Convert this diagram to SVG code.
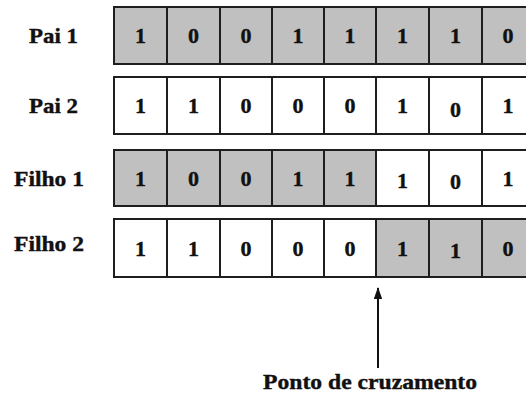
<svg xmlns="http://www.w3.org/2000/svg" width="526" height="394" viewBox="0 0 526 394">
  <style>
    .cell { stroke: #1e1e1e; stroke-width: 2; }
    .on { fill: #c0c0c0; }
    .off { fill: #ffffff; }
    text { font-family: "Liberation Serif", serif; font-weight: 700; font-size: 22px; fill: #111; stroke: #111; stroke-width: 0.4; }
    .bit { text-anchor: middle; }
  </style>
  <defs>
    <marker id="head" viewBox="0 0 12 10" refX="11" refY="5" markerWidth="12" markerHeight="10" markerUnits="userSpaceOnUse" orient="auto">
      <path d="M12,5 L0,0.8 L0,9.2 Z" fill="#111"/>
    </marker>
  </defs>
  <rect width="526" height="394" fill="#ffffff"/>

  <!-- Pai 1 -->
  <g id="pai1">
    <text x="29" y="43" textLength="49" lengthAdjust="spacingAndGlyphs">Pai 1</text>
    <rect class="cell on" x="114" y="7" width="53" height="57"/>
    <rect class="cell on" x="167" y="7" width="53" height="57"/>
    <rect class="cell on" x="220" y="7" width="52" height="57"/>
    <rect class="cell on" x="272" y="7" width="52" height="57"/>
    <rect class="cell on" x="324" y="7" width="52" height="57"/>
    <rect class="cell on" x="376" y="7" width="53" height="57"/>
    <rect class="cell on" x="429" y="7" width="53" height="57"/>
    <rect class="cell on" x="482" y="7" width="53" height="57"/>
    <text class="bit" x="140.5" y="43">1</text>
    <text class="bit" x="193.5" y="43">0</text>
    <text class="bit" x="246" y="43">0</text>
    <text class="bit" x="298" y="43">1</text>
    <text class="bit" x="350" y="43">1</text>
    <text class="bit" x="402.5" y="43">1</text>
    <text class="bit" x="455.5" y="43">1</text>
    <text class="bit" x="508" y="43">0</text>
  </g>

  <!-- Pai 2 -->
  <g id="pai2">
    <text x="29" y="113" textLength="49" lengthAdjust="spacingAndGlyphs">Pai 2</text>
    <rect class="cell off" x="114" y="77" width="53" height="57"/>
    <rect class="cell off" x="167" y="77" width="53" height="57"/>
    <rect class="cell off" x="220" y="77" width="52" height="57"/>
    <rect class="cell off" x="272" y="77" width="52" height="57"/>
    <rect class="cell off" x="324" y="77" width="52" height="57"/>
    <rect class="cell off" x="376" y="77" width="53" height="57"/>
    <rect class="cell off" x="429" y="77" width="53" height="57"/>
    <rect class="cell off" x="482" y="77" width="53" height="57"/>
    <text class="bit" x="140.5" y="113">1</text>
    <text class="bit" x="193.5" y="113">1</text>
    <text class="bit" x="246" y="113">0</text>
    <text class="bit" x="298" y="113">0</text>
    <text class="bit" x="350" y="113">0</text>
    <text class="bit" x="402.5" y="113">1</text>
    <text class="bit" x="455.5" y="117">0</text>
    <text class="bit" x="508" y="113">1</text>
  </g>

  <!-- Filho 1 -->
  <g id="filho1">
    <text x="14" y="186" textLength="70" lengthAdjust="spacingAndGlyphs">Filho 1</text>
    <rect class="cell on" x="114" y="150" width="53" height="56"/>
    <rect class="cell on" x="167" y="150" width="53" height="56"/>
    <rect class="cell on" x="220" y="150" width="52" height="56"/>
    <rect class="cell on" x="272" y="150" width="52" height="56"/>
    <rect class="cell on" x="324" y="150" width="52" height="56"/>
    <rect class="cell off" x="376" y="150" width="53" height="56"/>
    <rect class="cell off" x="429" y="150" width="53" height="56"/>
    <rect class="cell off" x="482" y="150" width="53" height="56"/>
    <text class="bit" x="140.5" y="186">1</text>
    <text class="bit" x="193.5" y="186">0</text>
    <text class="bit" x="246" y="186">0</text>
    <text class="bit" x="298" y="186">1</text>
    <text class="bit" x="350" y="186">1</text>
    <text class="bit" x="402.5" y="188">1</text>
    <text class="bit" x="455.5" y="189">0</text>
    <text class="bit" x="508" y="186">1</text>
  </g>

  <!-- Filho 2 -->
  <g id="filho2">
    <text x="14" y="251" textLength="70" lengthAdjust="spacingAndGlyphs">Filho 2</text>
    <rect class="cell off" x="114" y="219" width="53" height="58"/>
    <rect class="cell off" x="167" y="219" width="53" height="58"/>
    <rect class="cell off" x="220" y="219" width="52" height="58"/>
    <rect class="cell off" x="272" y="219" width="52" height="58"/>
    <rect class="cell off" x="324" y="219" width="52" height="58"/>
    <rect class="cell on" x="376" y="219" width="53" height="58"/>
    <rect class="cell on" x="429" y="219" width="53" height="58"/>
    <rect class="cell on" x="482" y="219" width="53" height="58"/>
    <text class="bit" x="140.5" y="256">1</text>
    <text class="bit" x="193.5" y="256">1</text>
    <text class="bit" x="246" y="256">0</text>
    <text class="bit" x="298" y="256">0</text>
    <text class="bit" x="350" y="256">0</text>
    <text class="bit" x="402.5" y="256">1</text>
    <text class="bit" x="455.5" y="258">1</text>
    <text class="bit" x="508" y="256">0</text>
  </g>

  <!-- crossover marker -->
  <g id="connectors">
    <line x1="378" y1="368" x2="378" y2="288" stroke="#111" stroke-width="2" marker-end="url(#head)"/>
  </g>
  <g id="ponto">
    <text x="263" y="389" textLength="214" lengthAdjust="spacingAndGlyphs">Ponto de cruzamento</text>
  </g>
</svg>
